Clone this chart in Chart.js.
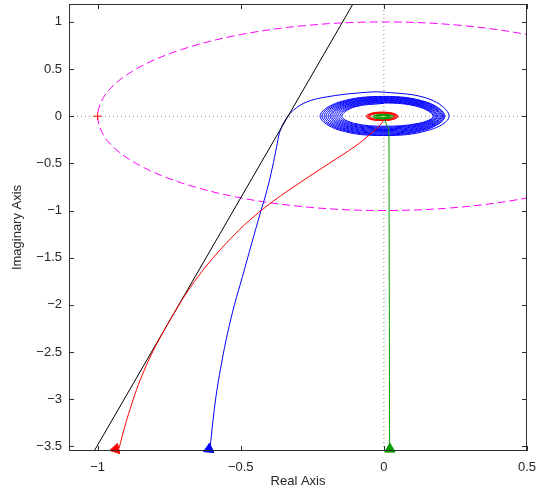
<!DOCTYPE html>
<html>
<head>
<meta charset="utf-8">
<script src="https://cdn.jsdelivr.net/npm/chart.js@4.4.1/dist/chart.umd.min.js"></script>
<style>
  html, body { margin: 0; padding: 0; background: #fff; }
</style>
</head>
<body>
<canvas id="myChart" width="547" height="488"></canvas>
<script>
// axis ticks
const xTicks = [-1, -0.5, 0, 0.5];
const yTicks = [-3.5, -3, -2.5, -2, -1.5, -1, -0.5, 0, 0.5, 1];

// blue branch: low-frequency tail, then the loops round the origin
const blueTailRe = [-0.607, -0.596, -0.583, -0.566, -0.546, -0.522, -0.494, -0.462, -0.432, -0.408, -0.390, -0.375, -0.364, -0.345, -0.316, -0.269, -0.200, -0.084];
const blueTailIm = [-3.52, -3.20, -2.90, -2.60, -2.30, -2.00, -1.70, -1.35, -1.03, -0.78, -0.55, -0.33, -0.17, -0.043, 0.064, 0.152, 0.205, 0.248];
const blueLoopRe = [
  0, 0.161, 0.228, 0.161, 0, -0.158, -0.223, -0.158,
  0, 0.151, 0.213, 0.151, 0, -0.153, -0.216, -0.153,
  0, 0.148, 0.209, 0.148, 0, -0.148, -0.209, -0.148,
  0, 0.145, 0.205, 0.145, 0, -0.143, -0.202, -0.143,
  0, 0.142, 0.201, 0.142, 0, -0.138, -0.195, -0.138,
  0, 0.139, 0.197, 0.139, 0, -0.133, -0.188, -0.133,
  0, 0.136, 0.193, 0.136, 0, -0.129, -0.182, -0.129,
  0, 0.133, 0.188, 0.133, 0, -0.124, -0.175, -0.124,
  0, 0.130, 0.184, 0.130, 0, -0.119, -0.168, -0.119,
  0, 0.127, 0.180, 0.127, 0, -0.114, -0.161, -0.114,
  0, 0.124, 0.176, 0.124, 0, -0.109, -0.154, -0.109,
  0, 0.122, 0.172, 0.122, 0, -0.104, -0.147, -0.104,
  0];
const blueLoopIm = [
  0.255, 0.180, 0, -0.145, -0.205, -0.145, 0, 0.148,
  0.210, 0.148, 0, -0.139, -0.197, -0.139, 0, 0.144,
  0.203, 0.144, 0, -0.133, -0.188, -0.133, 0, 0.139,
  0.196, 0.139, 0, -0.127, -0.179, -0.127, 0, 0.134,
  0.189, 0.134, 0, -0.120, -0.170, -0.120, 0, 0.129,
  0.182, 0.129, 0, -0.114, -0.161, -0.114, 0, 0.124,
  0.175, 0.124, 0, -0.107, -0.152, -0.107, 0, 0.119,
  0.168, 0.119, 0, -0.100, -0.142, -0.100, 0, 0.114,
  0.161, 0.114, 0, -0.094, -0.133, -0.094, 0, 0.109,
  0.154, 0.109, 0, -0.088, -0.124, -0.088, 0, 0.104,
  0.147, 0.104, 0, -0.081, -0.115, -0.081, 0, 0.099,
  0.140, 0.099, 0, -0.075, -0.106, -0.075, 0, 0.097,
  0.137];

// red branch
const redTailRe = [-0.925, -0.906, -0.886, -0.864, -0.838, -0.808, -0.773, -0.735, -0.695, -0.649, -0.596, -0.536, -0.468, -0.386, -0.291, -0.191, -0.101, -0.051, -0.023, -0.008];
const redTailIm = [-3.52, -3.30, -3.10, -2.90, -2.70, -2.50, -2.30, -2.10, -1.90, -1.70, -1.50, -1.30, -1.10, -0.90, -0.70, -0.50, -0.32, -0.20, -0.12, -0.075];
const redLoopRe = [
  -0.005, -0.0457, -0.0621, -0.0451, -0.005, 0.0344, 0.0503, 0.0338,
  -0.005, -0.0431, -0.0585, -0.0425, -0.005, 0.0319, 0.0467, 0.0312,
  -0.005, -0.0406, -0.0549, -0.0400, -0.005, 0.0293, 0.0431, 0.0287,
  -0.005, -0.0381, -0.0513, -0.0374, -0.005, 0.0268, 0.0395, 0.0261,
  -0.005, -0.0355, -0.0477, -0.0349, -0.005, 0.0242, 0.0359, 0.0236,
  -0.005];
const redLoopIm = [
  -0.049, -0.035, -0.002, 0.0304, 0.0435, 0.0299, -0.002, -0.0334,
  -0.046, -0.0328, -0.002, 0.0283, 0.0405, 0.0278, -0.002, -0.0313,
  -0.043, -0.0307, -0.002, 0.0262, 0.0375, 0.0257, -0.002, -0.0291,
  -0.040, -0.0286, -0.002, 0.0241, 0.0345, 0.0235, -0.002, -0.0270,
  -0.037, -0.0265, -0.002, 0.0220, 0.0315, 0.0214, -0.002, -0.0249,
  -0.034];

// green branch
const greenTailRe = [0.020, 0.019, 0.018, 0.0175, 0.016, 0.010, 0.004];
const greenTailIm = [-3.52, -2.0, -0.6, -0.2, -0.135, -0.095, -0.05];
const greenLoopRe = [
  -0.002, -0.0285, -0.0390, -0.0278, -0.002, 0.0230, 0.0329, 0.0223,
  -0.002, -0.0256, -0.0348, -0.0248, -0.002, 0.0201, 0.0287, 0.0194,
  -0.002, -0.0226, -0.0306, -0.0219, -0.002, 0.0171, 0.0246, 0.0164,
  -0.002, -0.0197, -0.0265, -0.0189, -0.002, 0.0142, 0.0204, 0.0135,
  -0.002, -0.0167, -0.0223, -0.0160, -0.002, 0.0113, 0.0162, 0.0105,
  -0.002, -0.0138, -0.0182, -0.0131, -0.002, 0.0083, 0.0121, 0.0076,
  -0.002];
const greenLoopIm = [
  -0.030, -0.0221, -0.004, 0.0136, 0.0205, 0.0131, -0.004, -0.0205,
  -0.027, -0.0200, -0.004, 0.0115, 0.0175, 0.0109, -0.004, -0.0184,
  -0.024, -0.0179, -0.004, 0.0093, 0.0145, 0.0088, -0.004, -0.0163,
  -0.021, -0.0158, -0.004, 0.0072, 0.0115, 0.0067, -0.004, -0.0142,
  -0.018, -0.0136, -0.004, 0.0051, 0.0085, 0.0046, -0.004, -0.0120,
  -0.015, -0.0115, -0.004, 0.0030, 0.0055, 0.0025, -0.004, -0.0099,
  -0.012];

// unit circle (dashed magenta)
const circleRe = [1, 0.966, 0.866, 0.707, 0.5, 0.259, 0, -0.259, -0.5, -0.707, -0.866, -0.966, -1, -0.966, -0.866, -0.707, -0.5, -0.259, 0, 0.259, 0.5, 0.707, 0.866, 0.966, 1];
const circleIm = [0, 0.259, 0.5, 0.707, 0.866, 0.966, 1, 0.966, 0.866, 0.707, 0.5, 0.259, 0, -0.259, -0.5, -0.707, -0.866, -0.966, -1, -0.966, -0.866, -0.707, -0.5, -0.259, 0];

// straight black line
const lineRe = [-1.012, -0.108];
const lineIm = [-3.55, 1.19];

// start markers (red, blue, green) and the -1 point
const startRe = [-0.937, -0.611, 0.021];
const startIm = [-3.53, -3.53, -3.53];
const startRot = [17, 5, 0];
const critRe = [-1];
const critIm = [0];

const xMin = -1.1, xMax = 0.5, yMin = -3.55, yMax = 1.19;

const pts = (re, im) => re.map((v, i) => ({ x: v, y: im[i] }));
const minus = v => (v < 0 ? '\u2212' + Math.abs(v) : String(v));

const BLUE = '#0000ff', RED = '#ff0000', GREEN = '#009e00';

const curve = (label, data, color) => ({
  label, data, showLine: true, borderColor: color, borderWidth: 1,
  pointRadius: 0, tension: 0.38, fill: false
});

// box + inward tick marks, matlab style
const boxPlugin = {
  id: 'box',
  afterDraw(chart) {
    const { ctx, chartArea: a, scales: { x, y } } = chart;
    ctx.save();
    ctx.strokeStyle = '#2e2e2e';
    ctx.lineWidth = 1;
    ctx.beginPath();
    xTicks.forEach(v => {
      const px = Math.round(x.getPixelForValue(v)) + 0.5;
      ctx.moveTo(px, a.bottom); ctx.lineTo(px, a.bottom - 5);
      ctx.moveTo(px, a.top); ctx.lineTo(px, a.top + 5);
    });
    yTicks.forEach(v => {
      const py = Math.round(y.getPixelForValue(v)) + 0.5;
      ctx.moveTo(a.left, py); ctx.lineTo(a.left + 5, py);
      ctx.moveTo(a.right, py); ctx.lineTo(a.right - 5, py);
    });
    ctx.stroke();
    ctx.strokeRect(a.left + 0.5, a.top + 0.5, a.right - a.left - 1, a.bottom - a.top - 1);
    ctx.restore();
  }
};

const fam = '"Liberation Sans", Arial, Helvetica, sans-serif';
const tickFont = { family: fam, size: 13 };

const config = {
  type: 'scatter',
  data: {
    datasets: [
      {
        label: 'start', data: pts(startRe, startIm), pointStyle: 'triangle',
        pointRadius: 6, pointRotation: startRot,
        backgroundColor: [RED, BLUE, GREEN], borderColor: [RED, BLUE, GREEN],
        borderWidth: 1, clip: false
      },
      {
        label: '-1', data: pts(critRe, critIm), pointStyle: 'cross',
        pointRadius: 4, borderColor: RED, borderWidth: 1
      },
      curve('green', pts(greenTailRe.concat(greenLoopRe), greenTailIm.concat(greenLoopIm)), GREEN),
      curve('red', pts(redTailRe.concat(redLoopRe), redTailIm.concat(redLoopIm)), RED),
      { label: 'line', data: pts(lineRe, lineIm), showLine: true, borderColor: '#000', borderWidth: 1, pointRadius: 0 },
      curve('blue', pts(blueTailRe.concat(blueLoopRe), blueTailIm.concat(blueLoopIm)), BLUE),
      {
        label: 'circle', data: pts(circleRe, circleIm), showLine: true, borderColor: '#ff00ff',
        borderWidth: 1, borderDash: [8, 4], pointRadius: 0, tension: 0.34
      },
      {
        label: 're0', data: [{ x: xMin, y: 0 }, { x: xMax, y: 0 }], showLine: true,
        borderColor: '#8a8a8a', borderWidth: 1, borderDash: [1, 3], pointRadius: 0
      },
      {
        label: 'im0', data: [{ x: 0, y: yMin }, { x: 0, y: yMax }], showLine: true,
        borderColor: '#8a8a8a', borderWidth: 1, borderDash: [1, 3], pointRadius: 0
      }
    ]
  },
  options: {
    responsive: false,
    animation: false,
    devicePixelRatio: 1,
    layout: { autoPadding: false, padding: { top: 4, right: 20, bottom: 0, left: 0 } },
    plugins: { legend: { display: false }, tooltip: { enabled: false } },
    scales: {
      x: {
        type: 'linear', min: xMin, max: xMax,
        afterBuildTicks: s => { s.ticks = xTicks.map(v => ({ value: v })); },
        afterFit: s => { s.height = 37; s.paddingLeft = 0; s.paddingRight = 0; },
        grid: { display: false, drawTicks: false },
        border: { display: false },
        ticks: { font: tickFont, color: '#262626', padding: 9, maxRotation: 0, callback: minus },
        title: { display: true, text: 'Real Axis', font: tickFont, color: '#262626', padding: { top: 0, bottom: -1 } }
      },
      y: {
        type: 'linear', min: yMin, max: yMax,
        afterBuildTicks: s => { s.ticks = yTicks.map(v => ({ value: v })); },
        afterFit: s => { s.width = 69; s.paddingTop = 0; s.paddingBottom = 0; },
        grid: { display: false, drawTicks: false },
        border: { display: false },
        ticks: { font: tickFont, color: '#262626', padding: 7, callback: minus },
        title: { display: true, text: 'Imaginary Axis', font: tickFont, color: '#262626', padding: { top: 10, bottom: 0 } }
      }
    }
  },
  plugins: [boxPlugin]
};

const myChart = new Chart(document.getElementById('myChart'), config);
</script>
</body>
</html>
